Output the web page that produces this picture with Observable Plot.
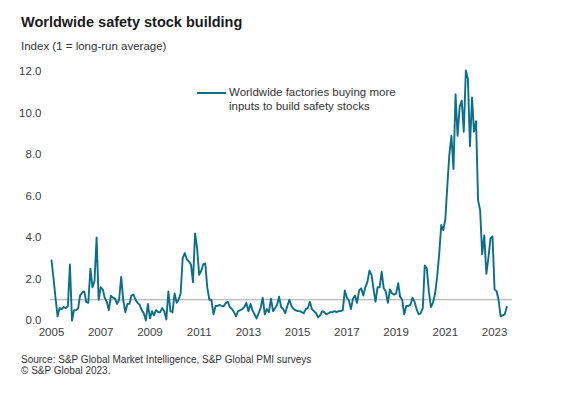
<!DOCTYPE html>
<html><head><meta charset="utf-8">
<script src="https://cdn.jsdelivr.net/npm/d3@7"></script>
<script src="https://cdn.jsdelivr.net/npm/@observablehq/plot@0.6"></script>
<style>
html,body{margin:0;padding:0;background:#fff;}
body{width:562px;height:398px;position:relative;overflow:hidden;font-family:"Liberation Sans",Arial,sans-serif;}
#chart{position:absolute;left:0;top:0;}
#title{position:absolute;left:21px;top:14px;font-size:14.5px;font-weight:bold;color:#1a1a1a;white-space:nowrap;line-height:normal;}
#subtitle{position:absolute;left:21px;top:40px;font-size:11.5px;color:#333;white-space:nowrap;line-height:normal;}
#swatch{position:absolute;left:197px;top:92px;width:29px;height:2px;}
#legend{position:absolute;left:229px;top:86px;font-size:11.5px;line-height:13.5px;color:#333;}
#source{position:absolute;left:21px;top:354px;font-size:10px;line-height:11px;color:#333;white-space:nowrap;}
</style>
</head><body>
<div id="chart"></div>
<div id="title">Worldwide safety stock building</div>
<div id="subtitle">Index (1 = long-run average)</div>
<div id="swatch"></div>
<div id="legend"></div>
<div id="source">Source: S&amp;P Global Market Intelligence, S&amp;P Global PMI surveys<br>© S&amp;P Global 2023.</div>
<script>
// Monthly series, starting January 2005
const startYear = 2005;
const seriesName = ["Worldwide factories buying more", "inputs to build safety stocks"];
const values = [
  // 2005
  2.9, 2.0, 1.1, 0.2, 0.6, 0.55, 0.65, 0.6, 0.7, 2.7, 0.0, 0.5,
  // 2006
  0.5, 0.6, 1.2, 1.35, 1.4, 0.9, 0.85, 2.5, 1.6, 1.9, 4.0, 1.0,
  // 2007
  1.6, 1.5, 1.1, 0.9, 0.5, 1.2, 1.1, 1.05, 0.8, 1.0, 2.1, 1.0,
  // 2008
  0.4, 0.8, 0.8, 1.2, 1.25, 1.0, 0.85, 0.75, 0.5, 0.35, 0.0, 0.8,
  // 2009
  0.1, 0.45, 0.25, 0.5, 0.4, 0.4, 0.6, 0.45, 0.05, 1.4, 0.45, 0.4,
  // 2010
  1.3, 0.85, 1.0, 1.3, 3.0, 3.25, 2.95, 2.85, 2.7, 1.85, 4.2, 3.5,
  // 2011
  2.2, 2.4, 2.7, 2.75, 1.6, 1.0, 1.0, 0.3, 0.7, 0.7, 0.75, 0.7,
  // 2012
  0.7, 0.85, 0.9, 0.65, 0.55, 0.4, 0.2, 0.45, 0.5, 0.55, 0.65, 0.85,
  // 2013
  0.45, 0.8, 0.5, 0.3, 0.1, 0.35, 0.6, 1.1, 0.3, 0.55, 0.4, 1.05,
  // 2014
  0.45, 0.6, 0.75, 1.15, 0.65, 0.55, 0.35, 0.7, 1.0, 0.7, 0.55, 0.5,
  // 2015
  0.45, 0.45, 0.4, 0.35, 0.55, 0.6, 0.9, 0.55, 0.45, 0.35, 0.15, 0.25,
  // 2016
  0.45, 0.4, 0.3, 0.35, 0.4, 0.4, 0.45, 0.4, 0.45, 0.45, 0.5, 1.45,
  // 2017
  1.1, 0.95, 0.55, 1.05, 1.2, 0.85, 1.45, 1.55, 1.2, 1.6, 1.85, 2.4,
  // 2018
  2.2, 1.5, 0.9, 1.6, 1.6, 2.35, 1.55, 1.4, 0.85, 1.5, 1.3, 1.25,
  // 2019
  1.3, 1.8, 1.15, 1.0, 0.3, 0.7, 0.7, 0.75, 1.1, 0.9, 0.55, 0.3,
  // 2020
  0.35, 0.6, 2.65, 2.5, 1.4, 0.65, 0.85, 1.3, 2.1, 3.2, 4.6, 4.35,
  // 2021
  4.9, 6.6, 8.0, 8.9, 7.3, 10.9, 8.9, 10.3, 10.6, 9.1, 12.05, 11.65,
  // 2022
  8.4, 10.75, 9.1, 9.6, 5.8, 5.3, 3.2, 4.1, 2.25, 3.0, 3.95, 4.05,
  // 2023
  1.5, 1.4, 1.0, 0.2, 0.25, 0.3, 0.65
];
const yTicks = [0, 2, 4, 6, 8, 10, 12];
const xTickYears = [2005, 2007, 2009, 2011, 2013, 2015, 2017, 2019, 2021, 2023];
const refValue = [1];

const lineColor = "#0b6f8a";
const data = values.map((v, i) => ({date: new Date(Date.UTC(startYear, i, 1)), value: v}));
const xTicks = xTickYears.map(y => new Date(Date.UTC(y, 0, 1)));

const chart = Plot.plot({
  width: 562,
  height: 345,
  marginTop: 71,
  marginBottom: 25,
  marginLeft: 50,
  marginRight: 50,
  style: {fontFamily: "'Liberation Sans', Arial, sans-serif", fontSize: "11.5px", color: "#404040", background: "transparent"},
  x: {type: "utc", domain: [new Date(Date.UTC(2004, 11, 17)), new Date(Date.UTC(2023, 8, 24))], label: null},
  y: {domain: [0, 12], label: null},
  marks: [
    Plot.ruleY(refValue, {stroke: "#a6a6a6", strokeWidth: 1}),
    Plot.lineY(data, {x: "date", y: "value", stroke: lineColor, strokeWidth: 1.9, strokeLinejoin: "round"}),
    Plot.axisY({ticks: yTicks, tickFormat: d3.format(".1f"), tickSize: 0, tickPadding: 9, label: null}),
    Plot.axisX({ticks: xTicks, tickFormat: d3.utcFormat("%Y"), tickSize: 0, tickPadding: 7, label: null})
  ]
});
document.getElementById("chart").appendChild(chart);
document.getElementById("swatch").style.background = lineColor;
document.getElementById("legend").innerHTML = seriesName.join("<br>");
</script>
</body></html>
